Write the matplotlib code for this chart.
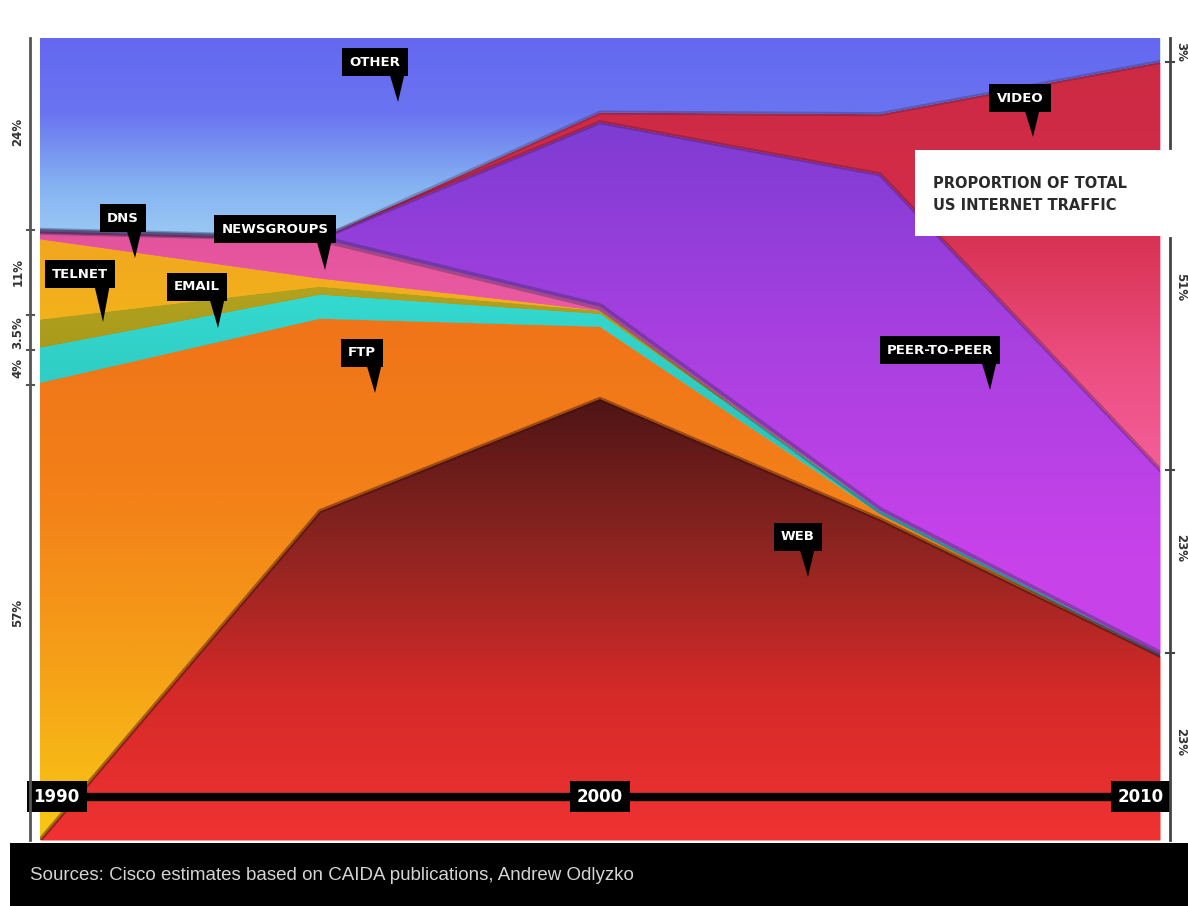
import numpy as np
import matplotlib.pyplot as plt
from matplotlib.colors import LinearSegmentedColormap
from matplotlib.patches import Rectangle, Polygon

# share of total US internet traffic (%)
years = [1990, 1995, 2000, 2005, 2010]
web = [0, 41, 55, 40, 23]
ftp = [57, 24, 9, 0.6, 0]
email = [4.4, 3, 1.6, 0.5, 0.2]
telnet = [3.5, 1, 0.4, 0, 0]
dns = [10, 1, 0, 0, 0]
newsgroups = [1, 5, 0.5, 0, 0]
p2p = [0, 0, 23, 41.9, 23]
video = [0, 0, 1.2, 7.5, 50.8]
other = [24.1, 25, 9.3, 9.5, 3]

left_labels = ['24%', '11%', '3.5%', '4%', '57%']
right_labels = ['3%', '51%', '23%', '23%']

W, H = 1188, 906
fig = plt.figure(figsize=(W / 100, H / 100), dpi=100)
ax = fig.add_axes([40 / W, 66 / H, 1120 / W, 802 / H])


def fp(x, y):
    # pixel -> figure fraction
    return x / W, 1 - y / H


def grad_fill(y0, y1, colors, lo, hi):
    # colors go bottom -> top
    poly = ax.fill_between(years, y0, y1, color=colors[0], lw=0, zorder=1)
    cmap = LinearSegmentedColormap.from_list('g', colors)
    g = np.linspace(0, 1, 256).reshape(-1, 1)
    im = ax.imshow(g, extent=[1990, 2010, lo, hi], origin='lower',
                   aspect='auto', cmap=cmap, interpolation='bilinear', zorder=2)
    im.set_clip_path(poly.get_paths()[0], transform=ax.transData)


layers = [
    (web, ['#f03232', '#d42a28', '#8a2420', '#4a1414'], 0, 56),
    (ftp, ['#f8c814', '#f6a018', '#f38018', '#f07418'], 0, 65),
    (email, ['#2ec4bc', '#34dcd2'], 50, 70),
    (telnet, ['#a09418', '#bca822'], 55, 75),
    (dns, ['#f4b81a', '#f0a020'], 60, 80),
    (newsgroups, ['#f060a8', '#e0509a'], 60, 80),
    (p2p, ['#c842ea', '#a840e0', '#7c3cd2'], 35, 90),
    (video, ['#f766a4', '#ec4e80', '#d42c48', '#cc2a44'], 40, 98),
    (other, ['#a6d4f4', '#86b4f2', '#6a74f0', '#6468f0'], 72, 100),
]

base = np.zeros(len(years))
tops = []
for vals, cols, lo, hi in layers:
    top = base + np.array(vals)
    grad_fill(base, top, cols, lo, hi)
    tops.append(top)
    base = top

# soft shadows on some boundaries
ax.plot(years, tops[0], color='#3a0a0a', lw=3, alpha=0.45, zorder=3)
ax.plot(years, tops[5], color='#2a2a50', lw=5, alpha=0.35, zorder=3)
ax.plot(years, tops[6], color='#3a1040', lw=3, alpha=0.3, zorder=3)
ax.plot(years, tops[7], color='#302050', lw=3, alpha=0.3, zorder=3)

ax.set_xlim(1990, 2010)
ax.set_ylim(0, 100)
ax.axis('off')

# timeline bar
ax.axhline(5.4, color='black', lw=6, zorder=4)
for yr, xx in [('1990', 1990.3), ('2000', 2000), ('2010', 2009.65)]:
    ax.text(xx, 5.4, yr, ha='center', va='center', color='white', fontsize=12,
            fontweight='bold', zorder=5,
            bbox=dict(fc='black', ec='none', boxstyle='square,pad=0.4'))

# callouts: label, box centre, pointer tip (pixels)
callouts = [
    ('OTHER', 375, 62, 398, 102),
    ('VIDEO', 1020, 98, 1033, 137),
    ('DNS', 123, 218, 135, 258),
    ('NEWSGROUPS', 275, 229, 325, 270),
    ('TELNET', 80, 274, 103, 322),
    ('EMAIL', 197, 287, 218, 328),
    ('FTP', 362, 353, 375, 393),
    ('PEER-TO-PEER', 940, 350, 990, 390),
    ('WEB', 798, 537, 808, 577),
]
for lab, cx, cy, tx, ty in callouts:
    fig.text(*fp(cx, cy), lab, ha='center', va='center', color='white',
             fontsize=9.5, fontweight='bold', zorder=5,
             bbox=dict(fc='black', ec='none', boxstyle='square,pad=0.55'))
    pts = [fp(tx - 9, cy + 10), fp(tx + 7, cy + 10), fp(tx, ty)]
    fig.add_artist(Polygon(pts, closed=True, transform=fig.transFigure,
                           fc='black', ec='none', zorder=4))

# left scale
fig.add_artist(plt.Line2D([30 / W, 30 / W], [1 - 38 / H, 1 - 840 / H],
                          transform=fig.transFigure, color='#555555', lw=2))
for ty in [230, 315, 350, 385]:
    fig.add_artist(plt.Line2D([27 / W, 34 / W], [1 - ty / H] * 2,
                              transform=fig.transFigure, color='#555555', lw=1.5))
for lab, ly in zip(left_labels, [132, 272, 333, 368, 613]):
    fig.text(*fp(18, ly), lab, rotation=90, ha='center', va='center',
             fontsize=8.5, fontweight='bold', color='#333333')

# right scale
for y0, y1 in [(38, 148), (238, 840)]:
    fig.add_artist(plt.Line2D([1170 / W] * 2, [1 - y0 / H, 1 - y1 / H],
                              transform=fig.transFigure, color='#444444', lw=2))
for ty in [62, 470, 653]:
    fig.add_artist(plt.Line2D([1166 / W, 1174 / W], [1 - ty / H] * 2,
                              transform=fig.transFigure, color='#444444', lw=1.5))
for lab, ly in zip(right_labels, [52, 287, 548, 742]):
    fig.text(*fp(1181, ly), lab, rotation=270, ha='center', va='center',
             fontsize=8.5, fontweight='bold', color='#333333')

# title box
fig.add_artist(Rectangle(fp(915, 236), 273 / W, 86 / H, transform=fig.transFigure,
                         fc='white', ec='none', zorder=3))
fig.text(*fp(933, 184), 'PROPORTION OF TOTAL', ha='left', va='center',
         fontsize=10.5, fontweight='bold', color='#2a2a2a', zorder=4)
fig.text(*fp(933, 206), 'US INTERNET TRAFFIC', ha='left', va='center',
         fontsize=10.5, fontweight='bold', color='#2a2a2a', zorder=4)

# source footer
fig.add_artist(Rectangle(fp(10, 906), 1178 / W, 63 / H, transform=fig.transFigure,
                         fc='black', ec='none', zorder=3))
fig.text(*fp(30, 876), 'Sources: Cisco estimates based on CAIDA publications, Andrew Odlyzko',
         ha='left', va='center', fontsize=13.5, family='Liberation Sans',
         color='#d4d4d4', zorder=4)

fig.savefig('out.png', dpi=100)
